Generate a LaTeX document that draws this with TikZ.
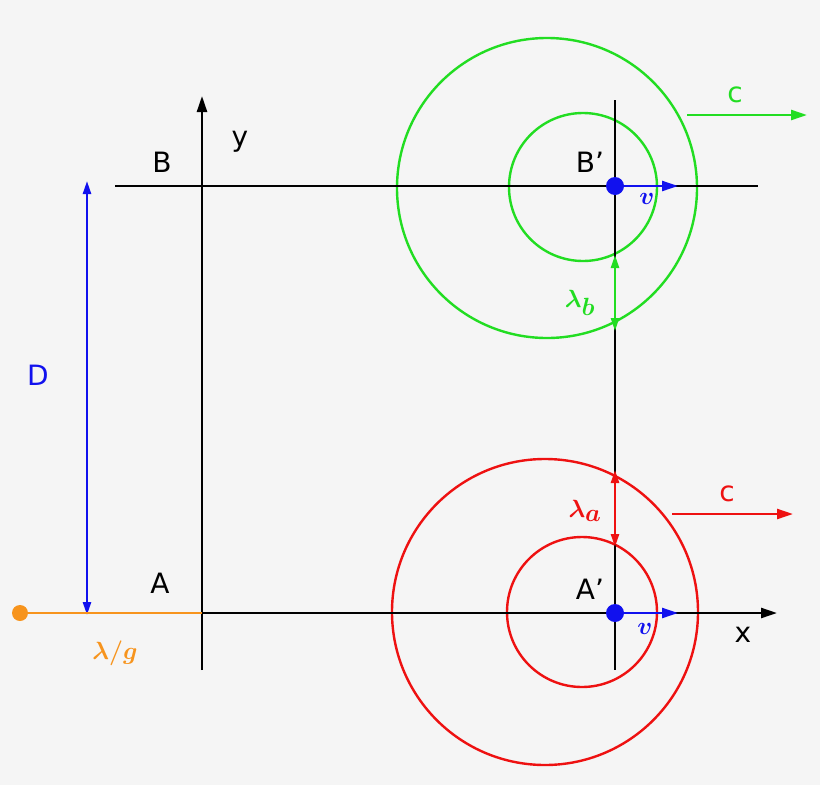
\documentclass[tikz,border=0pt]{standalone}
\usepackage{fontspec}
\usepackage{amsmath,bm}
\setsansfont{DejaVu Sans}
\usetikzlibrary{arrows.meta}
\definecolor{bg}{HTML}{F5F5F5}
\definecolor{gr}{HTML}{22DD22}
\definecolor{rd}{HTML}{EE1111}
\definecolor{bl}{HTML}{1111EE}
\definecolor{or}{HTML}{F7941D}
\tikzset{
  ax/.style={line width=2.4pt,black},
  tip/.style={-{Triangle[length=16pt,width=10pt]}},
  dtip/.style={{Triangle[length=13pt,width=8pt]}-{Triangle[length=13pt,width=8pt]}},
  lab/.style={font=\sffamily\fontsize{28}{32}\selectfont},
  glab/.style={font=\fontsize{44}{46}\selectfont},
  circ/.style={line width=2.4pt}
}
\begin{document}
\begin{tikzpicture}[x=1pt,y=-1pt]
\fill[bg] (0,0) rectangle (820,785);
\useasboundingbox (0,0) rectangle (820,785);
% circles
\draw[circ,gr] (547,188) circle (150);
\draw[circ,gr] (583,187) circle (74);
\draw[circ,rd] (545,612) circle (153);
\draw[circ,rd] (582,612) circle (75);
% axes
\coordinate (y0) at (202,670); \coordinate (y1) at (202,96);
\draw[ax,tip] (y0) -- (y1);
\coordinate (x0) at (202,613); \coordinate (x1) at (777,613);
\draw[ax,tip] (x0) -- (x1);
\coordinate (b0) at (115,186); \coordinate (b1) at (758,186);
\draw[ax] (b0) -- (b1);
\coordinate (v0) at (615,100); \coordinate (v1) at (615,670);
\draw[ax] (v0) -- (v1);
\node[lab] (ly) at (240,142) {y};
\node[lab] (lx) at (743,635) {x};
\node[lab] (lB) at (162,162) {B};
\node[lab] (lA) at (160,583) {A};
\node[lab] (lBp) at (590,162) {B\char"27};
\node[lab] (lAp) at (590,589) {A\char"27};
% lambda arrows
\coordinate (gb0) at (615,255); \coordinate (gb1) at (615,331);
\draw[circ,gr,dtip] (gb0) -- (gb1);
\node[glab,text=gr] (lb) at (580,303) {$\bm{\lambda_b}$};
\coordinate (ra0) at (615,470); \coordinate (ra1) at (615,547);
\draw[circ,rd,dtip] (ra0) -- (ra1);
\node[glab,text=rd] (la) at (585,511) {$\bm{\lambda_a}$};
% velocities
\node[circle,fill=bl,inner sep=0pt,minimum size=18pt] (Bp) at (615,186) {};
\coordinate (Bv) at (678,186);
\draw[circ,bl,tip] (Bp.center) -- (Bv);
\node[glab,text=bl] (vb) at (647,199) {$\bm{v}$};
\node[circle,fill=bl,inner sep=0pt,minimum size=18pt] (Ap) at (615,613) {};
\coordinate (Av) at (678,613);
\draw[circ,bl,tip] (Ap.center) -- (Av);
\node[glab,text=bl] (va) at (645,629) {$\bm{v}$};
% c arrows
\coordinate (c1a) at (687,115); \coordinate (c1b) at (807,115);
\draw[circ,gr,tip] (c1a) -- (c1b);
\node[lab,text=gr] (cg) at (735,95) {c};
\coordinate (c2a) at (672,514); \coordinate (c2b) at (793,514);
\draw[circ,rd,tip] (c2a) -- (c2b);
\node[lab,text=rd] (cr) at (727,494) {c};
% D
\coordinate (d0) at (87,181); \coordinate (d1) at (87,615);
\draw[circ,bl,dtip] (d0) -- (d1);
\node[lab,text=bl] (lD) at (38,375) {D};
% orange
\node[circle,fill=or,inner sep=0pt,minimum size=16pt] (od) at (20,613) {};
\draw[line width=2.8pt,or] (od.center) -- (x0);
\node[glab,text=or] (lg) at (115,653) {$\bm{\lambda/g}$};
\end{tikzpicture}
\end{document}
